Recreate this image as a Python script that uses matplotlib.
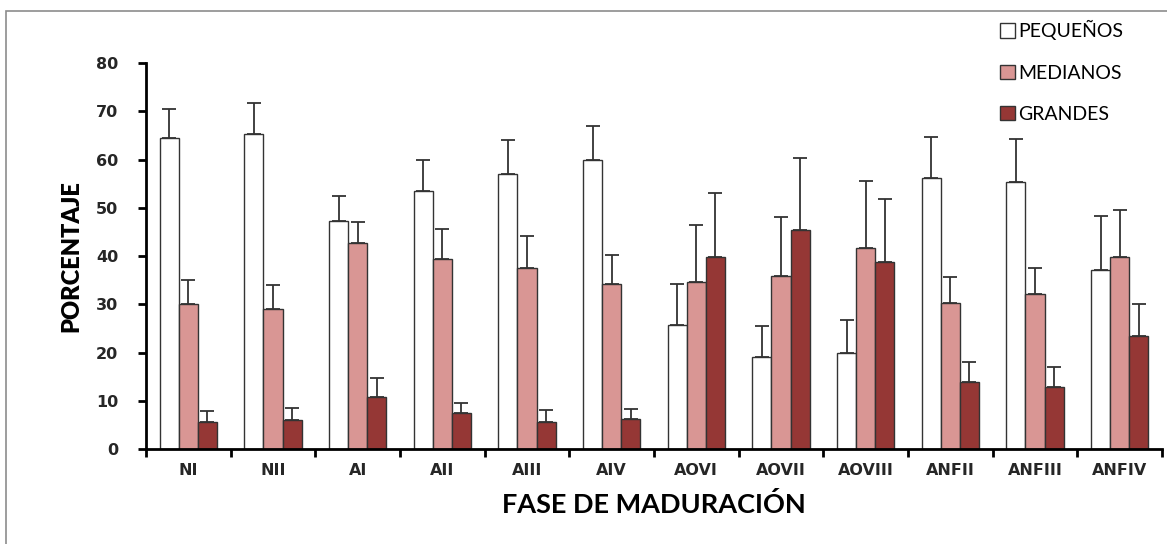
import numpy as np
import matplotlib.pyplot as plt
from matplotlib.patches import Rectangle

fases = ["NI", "NII", "AI", "AII", "AIII", "AIV", "AOVI", "AOVII", "AOVIII",
         "ANFII", "ANFIII", "ANFIV"]

pequenos = [64.5, 65.3, 47.2, 53.4, 57.0, 60.0, 25.7, 19.0, 20.0, 56.2, 55.4, 37.0]
medianos = [30.0, 29.0, 42.6, 39.3, 37.5, 34.2, 34.7, 35.8, 41.6, 30.3, 32.2, 39.8]
grandes = [5.7, 6.0, 10.8, 7.5, 5.7, 6.2, 39.8, 45.4, 38.7, 13.8, 12.8, 23.4]

err_pequenos = [6.0, 6.5, 5.3, 6.6, 7.0, 7.0, 8.6, 6.5, 6.7, 8.5, 8.8, 11.3]
err_medianos = [5.0, 5.0, 4.4, 6.3, 6.7, 6.1, 11.8, 12.2, 13.9, 5.3, 5.3, 9.7]
err_grandes = [2.1, 2.5, 3.9, 2.0, 2.3, 2.0, 13.2, 14.9, 13.1, 4.2, 4.2, 6.6]

series = [
    ("PEQUEÑOS", pequenos, err_pequenos, "white"),
    ("MEDIANOS", medianos, err_medianos, "#D99694"),
    ("GRANDES", grandes, err_grandes, "#953735"),
]

fig = plt.figure(figsize=(11.67, 5.44), dpi=100)
ax = fig.add_axes([0.1251, 0.1746, 0.8706, 0.7096])

# marco del área del gráfico
fig.patches.append(Rectangle((0.005, -0.1), 1.2, 1.08, transform=fig.transFigure,
                             fill=False, edgecolor="#8c8c8c", linewidth=1.2))

x = np.arange(len(fases))
width = 0.225
for i, (name, vals, errs, color) in enumerate(series):
    pos = x + (i - 1) * width
    ax.bar(pos, vals, width, color=color, edgecolor="#333333", linewidth=1.0,
           label=name, zorder=2)
    ax.errorbar(pos, vals, yerr=[np.zeros(len(vals)), errs], fmt="none",
                ecolor="#333333", elinewidth=1.3, capsize=5, capthick=1.3, zorder=3)

ax.set_xlim(-0.5, len(fases) - 0.5)
ax.set_ylim(0, 80)
ax.set_yticks(range(0, 81, 10))
ax.set_xticks(np.arange(len(fases) + 1) - 0.5, minor=False)
ax.set_xticklabels([])
ax.set_xticks(x, minor=True)
ax.set_xticklabels(fases, minor=True, fontsize=11.5, fontweight="bold",
                   family="DejaVu Sans", color="#262626")
ax.tick_params(axis="x", which="major", direction="out", length=6, width=2)
ax.tick_params(axis="x", which="minor", length=0, pad=10)
ax.tick_params(axis="y", direction="out", length=6, width=2, pad=14)
for lab in ax.get_yticklabels():
    lab.set_fontsize(11.5)
    lab.set_fontweight("bold")
    lab.set_family("DejaVu Sans")
    lab.set_color("#262626")

for side in ["top", "right"]:
    ax.spines[side].set_visible(False)
ax.spines["left"].set_linewidth(2)
ax.spines["bottom"].set_linewidth(2)

ax.set_ylabel("PORCENTAJE", fontsize=17, fontweight="heavy", family="Lato",
              labelpad=10)
ax.set_xlabel("FASE DE MADURACIÓN", fontsize=19.5, fontweight="bold",
              family="Lato", labelpad=10)

fig.legend(loc="upper left", bbox_to_anchor=(0.842, 0.995), frameon=False,
           prop={"family": "Lato", "size": 14}, handlelength=0.75,
           handleheight=0.75, handletextpad=0.2, labelspacing=1.25)

fig.savefig("out.png", dpi=100)
